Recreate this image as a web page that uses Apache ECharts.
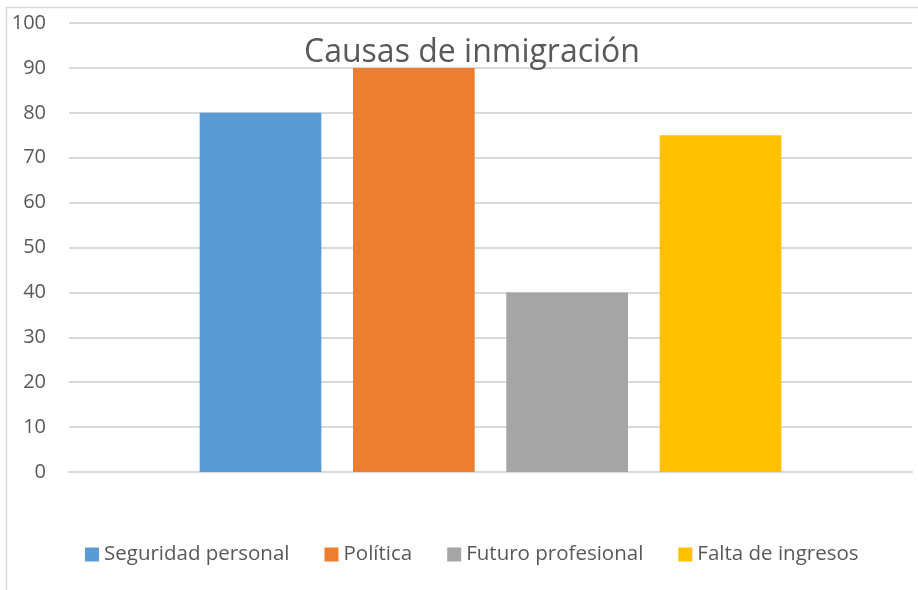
<!DOCTYPE html>
<html>
<head>
<meta charset="utf-8">
<script src="https://cdn.jsdelivr.net/npm/echarts@6/dist/echarts.min.js"></script>
<style>
  html, body { margin: 0; padding: 0; background: #fff; }
  #main { width: 918px; height: 590px; }
</style>
</head>
<body>
<div id="main"></div>
<script>
// datos
var causas = ['Seguridad personal', 'Política', 'Futuro profesional', 'Falta de ingresos'];
var valores = [80, 90, 40, 75];
var colores = ['#5b9bd5', '#ed7d31', '#a5a5a5', '#ffc000'];

var chart = echarts.init(document.getElementById('main'));

var series = causas.map(function (c, i) {
  return {
    name: c,
    type: 'bar',
    data: [valores[i]],
    barGap: '26%',
    barCategoryGap: '31%',
    itemStyle: { color: colores[i] }
  };
});

var option = {
  animation: false,
  color: colores,
  title: {
    text: 'Causas de inmigración',
    left: 467,
    textAlign: 'center',
    top: 32,
    textStyle: { fontFamily: 'Open Sans', fontSize: 32, fontWeight: 'normal', color: '#595959' }
  },
  // borde exterior
  graphic: [{
    type: 'rect',
    shape: { x: 6.5, y: 7.5, width: 930, height: 600 },
    style: { fill: null, stroke: '#d9d9d9', lineWidth: 1.5 },
    silent: true
  }],
  legend: {
    bottom: 20,
    left: 80,
    itemWidth: 14,
    itemHeight: 14,
    itemGap: 35,
    icon: 'rect',
    textStyle: { fontFamily: 'Open Sans', fontSize: 20.5, color: '#595959' },
    data: causas
  },
  grid: { left: 69, right: 6, top: 23, bottom: 118 },
  xAxis: {
    type: 'category',
    data: [''],
    axisLine: { show: true, lineStyle: { color: '#d9d9d9', width: 2 } },
    axisTick: { show: false },
    axisLabel: { show: false }
  },
  yAxis: {
    type: 'value',
    min: 0,
    max: 100,
    interval: 10,
    axisLine: { show: false },
    axisTick: { show: false },
    axisLabel: { fontFamily: 'Open Sans', fontSize: 20, color: '#595959', margin: 23 },
    splitLine: { lineStyle: { color: '#d9d9d9', width: 2 } }
  },
  series: series
};

chart.setOption(option);
</script>
</body>
</html>
